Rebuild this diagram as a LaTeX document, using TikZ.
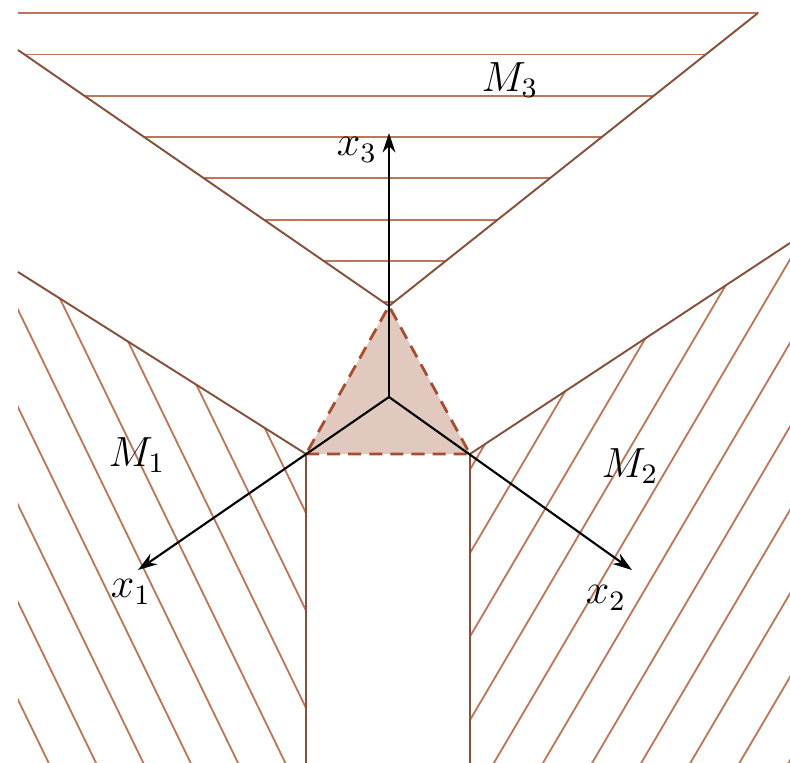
\documentclass[tikz,border=0pt]{standalone}
\usetikzlibrary{arrows.meta}

\definecolor{hatchbrown}{RGB}{190,118,88}
\definecolor{edgebrown}{RGB}{135,80,58}
\definecolor{dashbrown}{RGB}{168,78,48}
\definecolor{fillbrown}{RGB}{225,201,191}

\begin{document}
\begin{tikzpicture}[
    x=0.01cm, y=-0.01cm,
    hatch/.style={draw=hatchbrown, line width=0.52pt},
    border/.style={draw=edgebrown, line width=0.55pt},
    tri/.style={draw=dashbrown, line width=0.8pt, dash pattern=on 3.7pt off 2.3pt, fill=fillbrown},
    axis/.style={->, >={Stealth[length=5.5pt, width=3.6pt]}, black, line width=0.6pt},
    lbl/.style={font=\large, inner sep=0pt},
]
\useasboundingbox (0,0) rectangle (790,763);

% ── Points ──
\coordinate (O) at (389,397);
\coordinate (v3) at (389,306);
\coordinate (v1) at (306,454);
\coordinate (v2) at (470,454);
\coordinate (t3) at (389,133);
\coordinate (t1) at (138,570);
\coordinate (t2) at (632,570);

% ── Region M3 ──
\begin{scope}
  \clip (18,9) -- (763,9) -- (v3) -- (18,50) -- cycle;
  \foreach \k in {0,...,7}
    \draw[hatch] (0,13.2+41.3*\k) -- (790,13.2+41.3*\k);
\end{scope}
\coordinate (m3l) at (18,50);
\coordinate (m3r) at (758,13);
\draw[border] (m3l) -- (v3) -- (m3r);

% ── Region M1 ──
\begin{scope}
  \clip (18,272) -- (v1) -- (306,770) -- (18,770) -- cycle;
  \foreach \k in {0,...,8}
    \draw[hatch] (306-350,513+97.5*\k-721) -- ++(500,1030);
\end{scope}
\coordinate (m1t) at (18,272);
\coordinate (m1b) at (306,763);
\draw[border] (m1t) -- (v1) -- (m1b);

% ── Region M2 ──
\begin{scope}
  \clip (v2) -- (790,243) -- (790,770) -- (470,770) -- cycle;
  \foreach \k in {-1,...,9}
    \draw[hatch] (470-100,553+83.5*\k+170) -- ++(500,-850);
\end{scope}
\coordinate (m2t) at (790,243);
\coordinate (m2b) at (470,763);
\draw[border] (m2t) -- (v2) -- (m2b);

% ── Triangle ──
\draw[tri] (v1) -- (v2) -- (v3) -- cycle;

% ── Axes ──
\draw[axis] (O) -- (t3);
\draw[axis] (O) -- (t1);
\draw[axis] (O) -- (t2);

% ── Labels ──
\node[lbl] (M3) at (510,80) {$M_3$};
\node[lbl] (M1) at (137,455) {$M_1$};
\node[lbl] (M2) at (630,466) {$M_2$};
\node[lbl] (x3) at (357,150) {$x_3$};
\node[lbl] (x1) at (131,592) {$x_1$};
\node[lbl] (x2) at (606,598) {$x_2$};

\end{tikzpicture}
\end{document}
